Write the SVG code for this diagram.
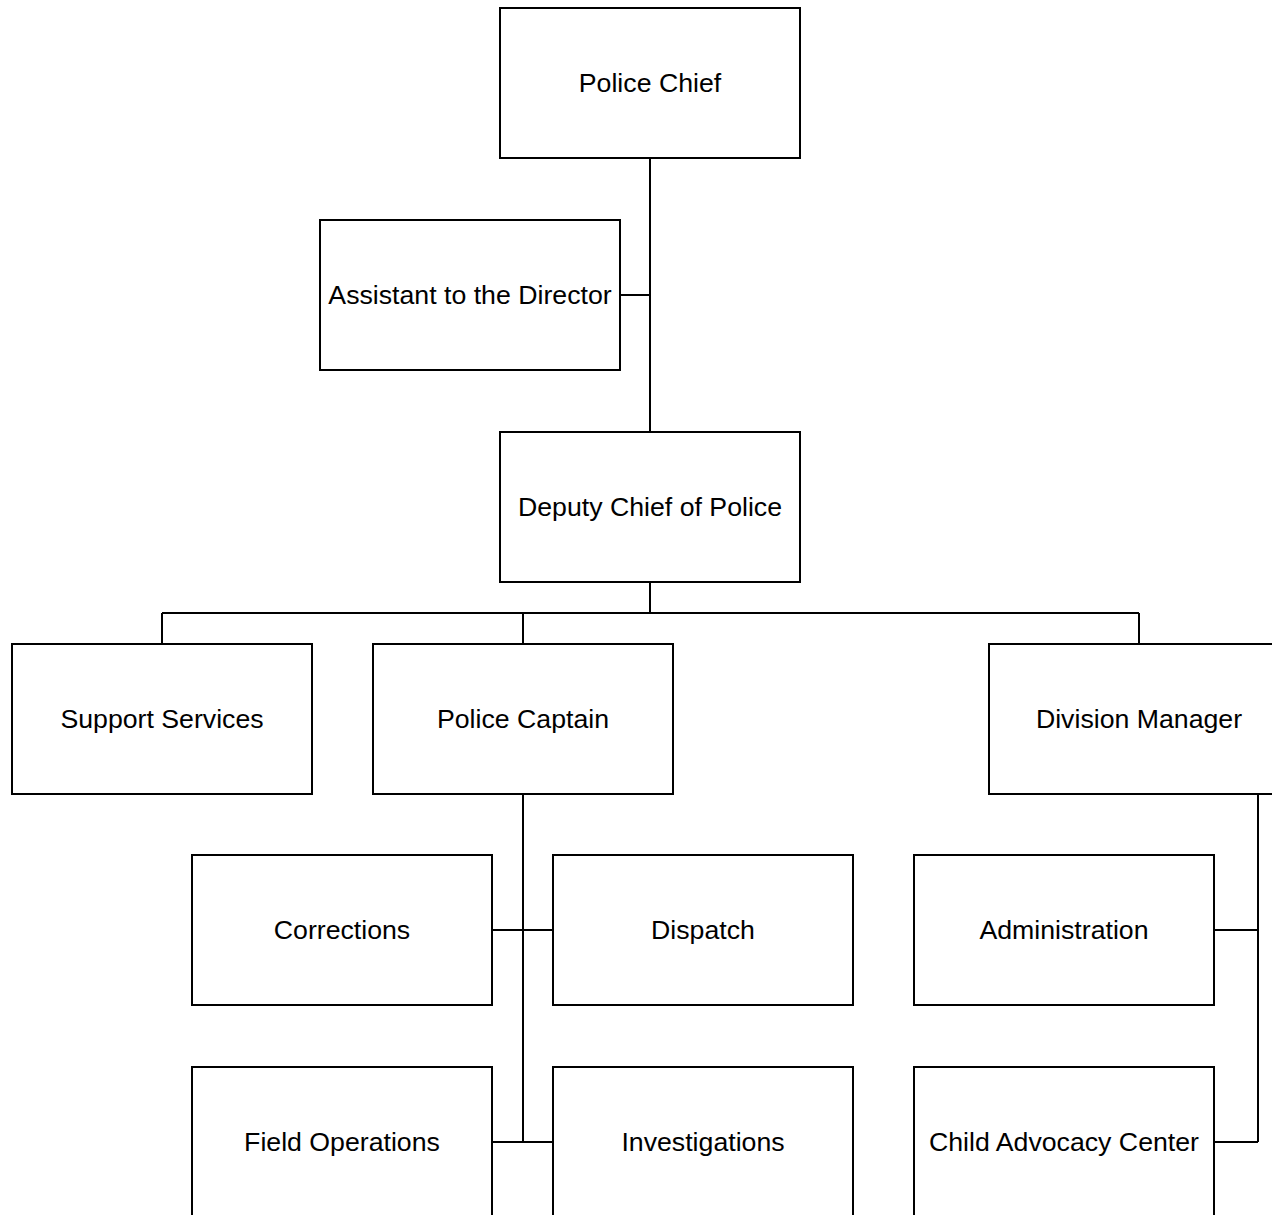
<svg xmlns="http://www.w3.org/2000/svg" width="1272" height="1215" viewBox="0 0 1272 1215">
<style>
.box{fill:#fff;stroke:#000;stroke-width:2}
.lbl{font-family:"Liberation Sans",Arial,sans-serif;font-size:26.7px;fill:#000;text-anchor:middle}
.con{fill:none;stroke:#000;stroke-width:2}
</style>
<rect width="1272" height="1215" fill="#fff"/>
<g id="connectors">
<path class="con" d="M650 158V432M620 295H650"/>
<path class="con" d="M650 582V613M162 613H1139M162 613V644M523 613V644M1139 613V644"/>
<path class="con" d="M523 794V1142M492 930H553M492 1142H553"/>
<path class="con" d="M1258 794V1142M1214 930H1258M1214 1142H1258"/>
</g>
<g id="police-chief"><rect class="box" x="500" y="8" width="300" height="150"/><text class="lbl" x="650" y="92">Police Chief</text></g>
<g id="assistant"><rect class="box" x="320" y="220" width="300" height="150"/><text class="lbl" x="470" y="304">Assistant to the Director</text></g>
<g id="deputy"><rect class="box" x="500" y="432" width="300" height="150"/><text class="lbl" x="650" y="516">Deputy Chief of Police</text></g>
<g id="support"><rect class="box" x="12" y="644" width="300" height="150"/><text class="lbl" x="162" y="728">Support Services</text></g>
<g id="captain"><rect class="box" x="373" y="644" width="300" height="150"/><text class="lbl" x="523" y="728">Police Captain</text></g>
<g id="division"><rect class="box" x="989" y="644" width="300" height="150"/><text class="lbl" x="1139" y="728">Division Manager</text></g>
<g id="corrections"><rect class="box" x="192" y="855" width="300" height="150"/><text class="lbl" x="342" y="939">Corrections</text></g>
<g id="dispatch"><rect class="box" x="553" y="855" width="300" height="150"/><text class="lbl" x="703" y="939">Dispatch</text></g>
<g id="administration"><rect class="box" x="914" y="855" width="300" height="150"/><text class="lbl" x="1064" y="939">Administration</text></g>
<g id="field-operations"><rect class="box" x="192" y="1067" width="300" height="150"/><text class="lbl" x="342" y="1151">Field Operations</text></g>
<g id="investigations"><rect class="box" x="553" y="1067" width="300" height="150"/><text class="lbl" x="703" y="1151">Investigations</text></g>
<g id="child-advocacy"><rect class="box" x="914" y="1067" width="300" height="150"/><text class="lbl" x="1064" y="1151">Child Advocacy Center</text></g>
</svg>
